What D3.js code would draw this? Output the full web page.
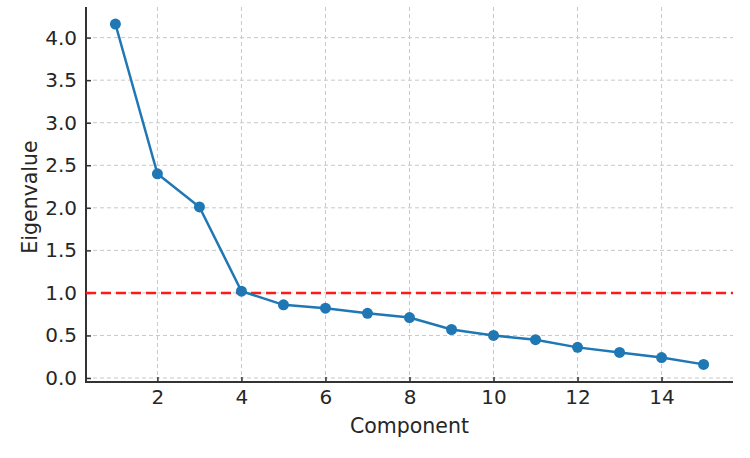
<!DOCTYPE html>
<meta charset="utf-8">
<style>
  body { margin: 0; background: #fff; }
  text { font-family: "DejaVu Sans", sans-serif; fill: #262626; }
  .grid line { stroke: #c8c8c8; stroke-width: 1; stroke-dasharray: 4,3; }
  .axis path, .axis line { stroke: #333; }
</style>
<body>
<svg id="chart"></svg>
<script src="https://cdn.jsdelivr.net/npm/d3@7"></script>
<script>
  var width = 750,
    height = 458;

  // eigenvalues
  var components = [1, 2, 3, 4, 5, 6, 7, 8, 9, 10, 11, 12, 13, 14, 15];
  var eigenvalues = [4.16, 2.40, 2.01, 1.02, 0.86, 0.82, 0.76, 0.71, 0.57, 0.50, 0.45, 0.36, 0.30, 0.24, 0.16];
  var xTicks = [2, 4, 6, 8, 10, 12, 14];
  var yTicks = [0.0, 0.5, 1.0, 1.5, 2.0, 2.5, 3.0, 3.5, 4.0];
  var kaiserLine = 1.0;

  var plotLeft = 86, plotRight = 733, plotTop = 7, plotBottom = 382;

  var x = d3.scaleLinear().domain([0.3, 15.7]).range([plotLeft, plotRight]);
  var y = d3.scaleLinear().domain([-0.047, 4.36]).range([plotBottom, plotTop]);

  var svg = d3.select("#chart")
    .attr("width", width)
    .attr("height", height);

  // grid
  var grid = svg.append("g").attr("class", "grid");
  grid.selectAll(".gx")
    .data(xTicks)
    .enter().append("line")
    .attr("x1", function (d) { return x(d); })
    .attr("x2", function (d) { return x(d); })
    .attr("y1", plotTop)
    .attr("y2", plotBottom);
  grid.selectAll(".gy")
    .data(yTicks)
    .enter().append("line")
    .attr("x1", plotLeft)
    .attr("x2", plotRight)
    .attr("y1", function (d) { return y(d); })
    .attr("y2", function (d) { return y(d); });

  // axes with inward ticks
  var xAxis = svg.append("g")
    .attr("class", "axis")
    .attr("transform", "translate(0," + plotBottom + ")")
    .call(d3.axisBottom(x).tickValues(xTicks).tickSizeInner(-5).tickSizeOuter(0).tickPadding(8));
  xAxis.select(".domain").remove();
  xAxis.selectAll("text").style("font-size", "20px");
  xAxis.selectAll("line").attr("stroke-width", 1.5);

  var yAxis = svg.append("g")
    .attr("class", "axis")
    .attr("transform", "translate(" + plotLeft + ",0)")
    .call(d3.axisLeft(y).tickValues(yTicks).tickFormat(d3.format(".1f")).tickSizeInner(-5).tickSizeOuter(0).tickPadding(9));
  yAxis.select(".domain").remove();
  yAxis.selectAll("text").style("font-size", "20px");
  yAxis.selectAll("line").attr("stroke-width", 1.5);

  // spines
  svg.append("line")
    .attr("x1", plotLeft).attr("x2", plotLeft)
    .attr("y1", plotTop).attr("y2", plotBottom)
    .attr("stroke", "#333").attr("stroke-width", 2);
  svg.append("line")
    .attr("x1", plotLeft - 1).attr("x2", plotRight)
    .attr("y1", plotBottom).attr("y2", plotBottom)
    .attr("stroke", "#333").attr("stroke-width", 2);

  // Kaiser criterion line
  svg.append("line")
    .attr("x1", plotLeft).attr("x2", plotRight)
    .attr("y1", y(kaiserLine)).attr("y2", y(kaiserLine))
    .attr("stroke", "#ff1a1a")
    .attr("stroke-width", 2.5)
    .attr("stroke-dasharray", "10,5");

  var pts = components.map(function (c, i) { return [c, eigenvalues[i]]; });

  svg.append("path")
    .datum(pts)
    .attr("fill", "none")
    .attr("stroke", "#1f77b4")
    .attr("stroke-width", 2.5)
    .attr("d", d3.line()
      .x(function (d) { return x(d[0]); })
      .y(function (d) { return y(d[1]); }));

  svg.selectAll(".dot")
    .data(pts)
    .enter().append("circle")
    .attr("cx", function (d) { return x(d[0]); })
    .attr("cy", function (d) { return y(d[1]); })
    .attr("r", 5.5)
    .attr("fill", "#1f77b4");

  // labels
  svg.append("text")
    .attr("x", (plotLeft + plotRight) / 2)
    .attr("y", 433)
    .attr("text-anchor", "middle")
    .style("font-size", "20.5px")
    .text("Component");

  svg.append("text")
    .attr("transform", "translate(37,197)rotate(-90)")
    .attr("text-anchor", "middle")
    .style("font-size", "20.5px")
    .text("Eigenvalue");
</script>
</body>
